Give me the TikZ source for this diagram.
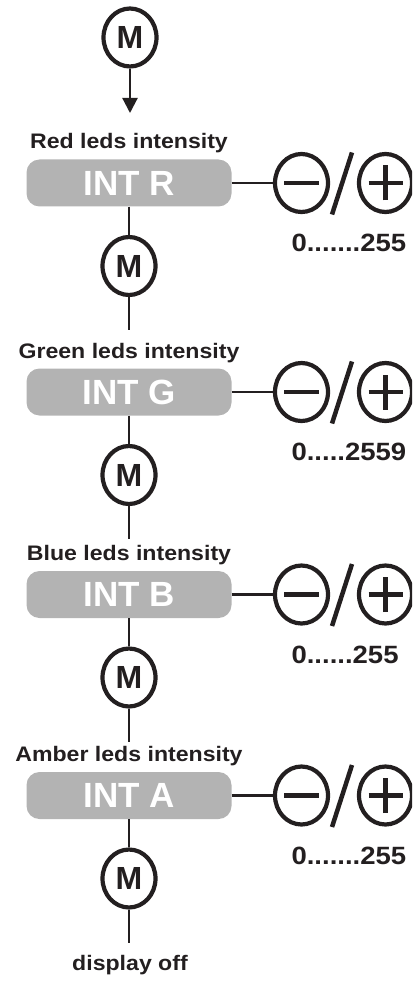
\documentclass[tikz,border=0pt]{standalone}
\usepackage{fontspec}
\setmainfont{Liberation Sans}
\newfontfamily\widesans[FakeStretch=1.1]{Liberation Sans}
\usepackage{tikz}
\usetikzlibrary{arrows.meta, positioning, shapes.geometric}

\definecolor{ink}{RGB}{35,31,32}
\definecolor{boxgray}{RGB}{179,179,179}

\newcommand{\capfont}{\widesans\bfseries\fontsize{21}{24}\selectfont}
\newcommand{\rangefont}{\widesans\bfseries\fontsize{25}{28}\selectfont}
\newcommand{\menufont}{\bfseries\fontsize{32}{34}\selectfont}
\newcommand{\boxfont}{\bfseries\fontsize{35}{38}\selectfont}

\begin{document}
\begin{tikzpicture}[x=1pt, y=-1pt, node distance=83pt, >={Triangle[length=15pt, width=15pt]},
		wire/.style={draw=ink, line width=2.2pt},
		signbar/.style={draw=ink, line width=4.5pt},
		setbox/.style={rectangle, rounded corners=13pt, fill=boxgray, text=white, minimum width=205pt, minimum height=47pt, font=\boxfont},
		menukey/.style={ellipse, draw=ink, line width=4.2pt, minimum width=53pt, minimum height=58pt, inner sep=0pt, text=ink, font=\menufont},
		signkey/.style={ellipse, draw=ink, line width=4.2pt, minimum width=53pt, minimum height=58pt, inner sep=0pt},
		ledcap/.style={anchor=base, text=ink, font=\capfont},
		rangetext/.style={anchor=base west, text=ink, font=\rangefont}]
				\useasboundingbox (0,0) rectangle (412,984);
				\clip (0,0) rectangle (412,984);

				% entry key
				\node[menukey] (MenuTop) at (130,37.5) {M};
				\coordinate (TopTip) at (130,113);
				\draw[wire, ->] (MenuTop) -- (TopTip);

				% red
				\node[setbox] (IntR) at (129,183) {INT R};
				\node[ledcap] (CapR) at ([yshift=34pt]IntR.center) {Red leds intensity};
				\node[signkey, right of=IntR, node distance=172.5pt] (MinusR) {};
				\node[signkey, right of=MinusR, node distance=84pt] (PlusR) {};
				\node[rangetext] (RangeR) at ([xshift=-13.5pt, yshift=-68.5pt]MinusR.center) {0.......255};
				\node[menukey, below of=IntR] (MenuR) {M};
				\coordinate[below of=MenuR, node distance=64pt] (EndR);

				\draw[wire] (IntR) -- (MinusR);
				\draw[wire] (IntR) -- (MenuR);
				\draw[wire] (MenuR) -- (EndR);
				\draw[signbar] ([xshift=-17.5pt]MinusR.center) -- ([xshift=17.5pt]MinusR.center);
				\draw[signbar] ([xshift=-17pt]PlusR.center) -- ([xshift=17pt]PlusR.center)
					([yshift=-17.5pt]PlusR.center) -- ([yshift=17.5pt]PlusR.center);
				\draw[signbar] ([shift={(30.5,31.5)}]MinusR.center) -- ([shift={(50.5,-30.5)}]MinusR.center);

				% green
				\node[setbox] (IntG) at (129,392) {INT G};
				\node[ledcap] (CapG) at ([yshift=34pt]IntG.center) {Green leds intensity};
				\node[signkey, right of=IntG, node distance=172.5pt] (MinusG) {};
				\node[signkey, right of=MinusG, node distance=84pt] (PlusG) {};
				\node[rangetext] (RangeG) at ([xshift=-13.5pt, yshift=-68.5pt]MinusG.center) {0.....2559};
				\node[menukey, below of=IntG] (MenuG) {M};
				\coordinate[below of=MenuG, node distance=64pt] (EndG);

				\draw[wire] (IntG) -- (MinusG);
				\draw[wire] (IntG) -- (MenuG);
				\draw[wire] (MenuG) -- (EndG);
				\draw[signbar] ([xshift=-17.5pt]MinusG.center) -- ([xshift=17.5pt]MinusG.center);
				\draw[signbar] ([xshift=-17pt]PlusG.center) -- ([xshift=17pt]PlusG.center)
					([yshift=-17.5pt]PlusG.center) -- ([yshift=17.5pt]PlusG.center);
				\draw[signbar] ([shift={(30.5,31.5)}]MinusG.center) -- ([shift={(50.5,-30.5)}]MinusG.center);

				% blue
				\node[setbox] (IntB) at (129,594.5) {INT B};
				\node[ledcap] (CapB) at ([yshift=34pt]IntB.center) {Blue leds intensity};
				\node[signkey, right of=IntB, node distance=172.5pt] (MinusB) {};
				\node[signkey, right of=MinusB, node distance=84pt] (PlusB) {};
				\node[rangetext] (RangeB) at ([xshift=-13.5pt, yshift=-68.5pt]MinusB.center) {0......255};
				\node[menukey, below of=IntB] (MenuB) {M};
				\coordinate[below of=MenuB, node distance=64pt] (EndB);

				\draw[wire] (IntB) -- (MinusB);
				\draw[wire] (IntB) -- (MenuB);
				\draw[wire] (MenuB) -- (EndB);
				\draw[signbar] ([xshift=-17.5pt]MinusB.center) -- ([xshift=17.5pt]MinusB.center);
				\draw[signbar] ([xshift=-17pt]PlusB.center) -- ([xshift=17pt]PlusB.center)
					([yshift=-17.5pt]PlusB.center) -- ([yshift=17.5pt]PlusB.center);
				\draw[signbar] ([shift={(30.5,31.5)}]MinusB.center) -- ([shift={(50.5,-30.5)}]MinusB.center);

				% amber
				\node[setbox] (IntA) at (129,795.5) {INT A};
				\node[ledcap] (CapA) at ([yshift=34pt]IntA.center) {Amber leds intensity};
				\node[signkey, right of=IntA, node distance=172.5pt] (MinusA) {};
				\node[signkey, right of=MinusA, node distance=84pt] (PlusA) {};
				\node[rangetext] (RangeA) at ([xshift=-13.5pt, yshift=-68.5pt]MinusA.center) {0.......255};
				\node[menukey, below of=IntA] (MenuA) {M};
				\coordinate[below of=MenuA, node distance=64pt] (EndA);

				\draw[wire] (IntA) -- (MinusA);
				\draw[wire] (IntA) -- (MenuA);
				\draw[wire] (MenuA) -- (EndA);
				\draw[signbar] ([xshift=-17.5pt]MinusA.center) -- ([xshift=17.5pt]MinusA.center);
				\draw[signbar] ([xshift=-17pt]PlusA.center) -- ([xshift=17pt]PlusA.center)
					([yshift=-17.5pt]PlusA.center) -- ([yshift=17.5pt]PlusA.center);
				\draw[signbar] ([shift={(30.5,31.5)}]MinusA.center) -- ([shift={(50.5,-30.5)}]MinusA.center);

				% exit
				\node[ledcap] (DisplayOff) at (130,970) {display off};

			\end{tikzpicture}
\end{document}
